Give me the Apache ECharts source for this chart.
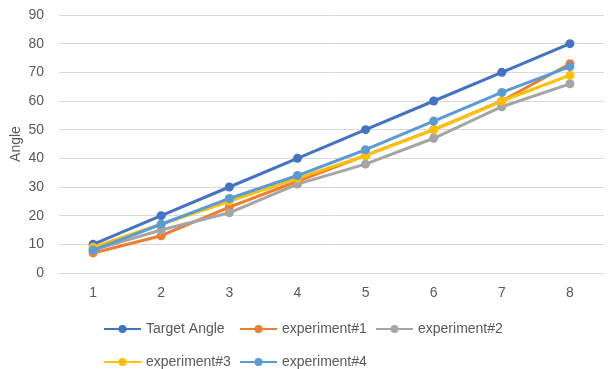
<!DOCTYPE html>
<html>
<head>
<meta charset="utf-8">
<script src="https://cdn.jsdelivr.net/npm/echarts@6/dist/echarts.min.js"></script>
<style>
  html, body { margin: 0; padding: 0; background: #ffffff; }
  #chart { width: 608px; height: 369px; }
</style>
</head>
<body>
<div id="chart"></div>
<script>
// Trial index on the x axis
const categories = ['1', '2', '3', '4', '5', '6', '7', '8'];

// Angle values per series
const targetAngle = [10, 20, 30, 40, 50, 60, 70, 80];
const experiment1 = [7, 13, 23, 32, 41, 50, 60, 73];
const experiment2 = [8, 15, 21, 31, 38, 47, 58, 66];
const experiment3 = [9, 17, 25, 33, 41, 50, 60, 69];
const experiment4 = [8, 17, 26, 34, 43, 53, 63, 72];

const seriesNames = ['Target Angle', 'experiment#1', 'experiment#2', 'experiment#3', 'experiment#4'];
const seriesValues = [targetAngle, experiment1, experiment2, experiment3, experiment4];
const seriesColors = ['#4472C4', '#ED7D31', '#A5A5A5', '#FFC000', '#5B9BD5'];

const fontFamily = '"Liberation Sans", Arial, sans-serif';
const textColor = '#595959';
const gridColor = '#d9d9d9';

const chart = echarts.init(document.getElementById('chart'), null, { renderer: 'canvas' });

chart.setOption({
  backgroundColor: '#ffffff',
  animation: false,
  textStyle: { fontFamily: fontFamily },
  grid: { left: 59, right: 4, top: 15, bottom: 96, containLabel: false, outerBoundsMode: 'none' },
  legend: {
    left: 103,
    top: 315,
    padding: 0,
    width: 420,
    itemWidth: 37,
    itemHeight: 10,
    itemGap: 5,
    textStyle: {
      color: textColor,
      fontSize: 14,
      fontFamily: fontFamily,
      width: 88,
      lineHeight: 28
    },
    data: seriesNames
  },
  xAxis: {
    type: 'category',
    data: categories,
    boundaryGap: true,
    axisLine: { show: true, lineStyle: { color: gridColor, width: 1 } },
    axisTick: { show: false },
    axisLabel: { color: textColor, fontSize: 14, margin: 13 }
  },
  yAxis: {
    type: 'value',
    min: 0,
    max: 90,
    interval: 10,
    name: 'Angle',
    nameLocation: 'middle',
    nameGap: 36,
    nameMoveOverlap: false,
    nameRotate: 90,
    nameTextStyle: { color: textColor, fontSize: 14 },
    axisLine: { show: false },
    axisTick: { show: false },
    axisLabel: { color: textColor, fontSize: 14, margin: 15 },
    splitLine: { show: true, lineStyle: { color: gridColor, width: 1 } }
  },
  series: seriesNames.map((name, i) => ({
    name: name,
    type: 'line',
    data: seriesValues[i],
    symbol: 'circle',
    symbolSize: 9,
    showSymbol: true,
    lineStyle: { color: seriesColors[i], width: 3 },
    itemStyle: { color: seriesColors[i], borderWidth: 0 },
    z: 2 + i
  }))
});
</script>
</body>
</html>
